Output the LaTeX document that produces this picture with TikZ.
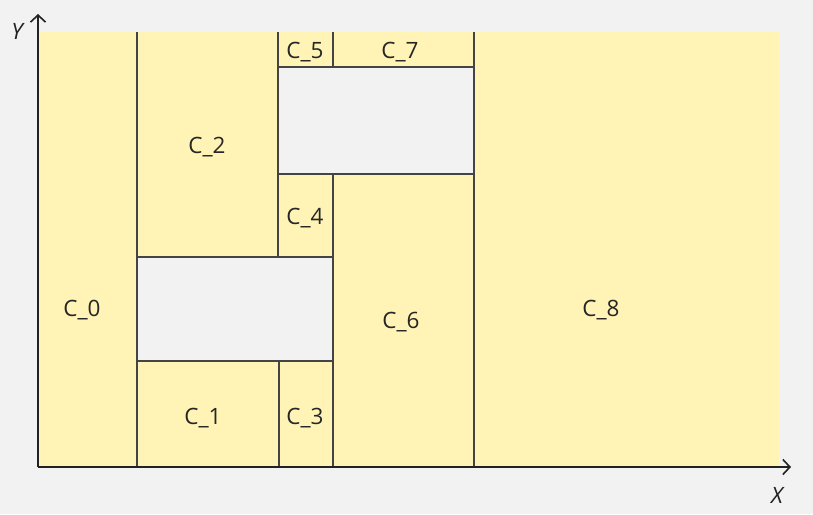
\documentclass[tikz,border=0pt]{standalone}
\usepackage{fontspec}
\setmainfont{Open Sans}
\usetikzlibrary{arrows.meta}
\definecolor{cellfill}{HTML}{FFF4B5}
\definecolor{canvas}{HTML}{F2F2F2}
\definecolor{wallgray}{HTML}{444444}
\definecolor{axisblack}{HTML}{222222}

\begin{document}
\begin{tikzpicture}[
      x=1pt, y=-1pt,
      font=\fontsize{22.5}{26}\selectfont
  ]

  % canvas
  \fill[canvas] (0,0) rectangle (813,514);
  \useasboundingbox (0,0) rectangle (813,514);

  \begin{scope}[
      cell/.style={fill=cellfill},
      every node/.style={text=black!85, inner sep=0pt, yshift=-2pt}
  ]
      \path[cell] (38,32)  rectangle (137,467)  ;
      \path[cell] (137,32) rectangle (278,257)  ;
      \path[cell] (137,361) rectangle (279,467) ;
      \path[cell] (279,361) rectangle (333,467) ;
      \path[cell] (278,174) rectangle (333,257) ;
      \path[cell] (278,32) rectangle (333,67)   ;
      \path[cell] (333,174) rectangle (474,467) ;
      \path[cell] (333,32) rectangle (474,67)   ;
      \path[cell] (474,32) rectangle (779,467)  ;

      \node (c0) at (82,308)  {C\_0};
      \node (c1) at (203,416) {C\_1};
      \node (c2) at (207,145) {C\_2};
      \node (c3) at (305,416) {C\_3};
      \node (c4) at (305,216) {C\_4};
      \node (c5) at (305,50)  {C\_5};
      \node (c6) at (401,320) {C\_6};
      \node (c7) at (400,50)  {C\_7};
      \node (c8) at (601,308) {C\_8};
  \end{scope}

  % cell walls
  \begin{scope}[wall/.style={draw=wallgray, line width=1.6pt}]
      \draw[wall] (137,32) -- (137,467);
      \draw[wall] (278,32) -- (278,257);
      \draw[wall] (279,361) -- (279,467);
      \draw[wall] (333,32) -- (333,67);
      \draw[wall] (333,174) -- (333,467);
      \draw[wall] (474,32) -- (474,467);
      \draw[wall] (278,67) -- (474,67);
      \draw[wall] (278,174) -- (474,174);
      \draw[wall] (137,257) -- (333,257);
      \draw[wall] (137,361) -- (333,361);
  \end{scope}

  % axes
  \coordinate (origin) at (38,467);
  \coordinate (xend) at (791,467);
  \coordinate (yend) at (38,14);
  \draw[axisblack, line width=2.2pt, -{Straight Barb[length=7pt, width=15pt, line width=1.6pt]}] (origin) -- (xend);
  \draw[axisblack, line width=2.2pt, -{Straight Barb[length=7pt, width=15pt, line width=1.6pt]}] (origin) -- (yend);
  \node[text=axisblack] (xlabel) at (777,495) {\itshape X};
  \node[text=axisblack] (ylabel) at (17,31) {\itshape Y};

\end{tikzpicture}
\end{document}
